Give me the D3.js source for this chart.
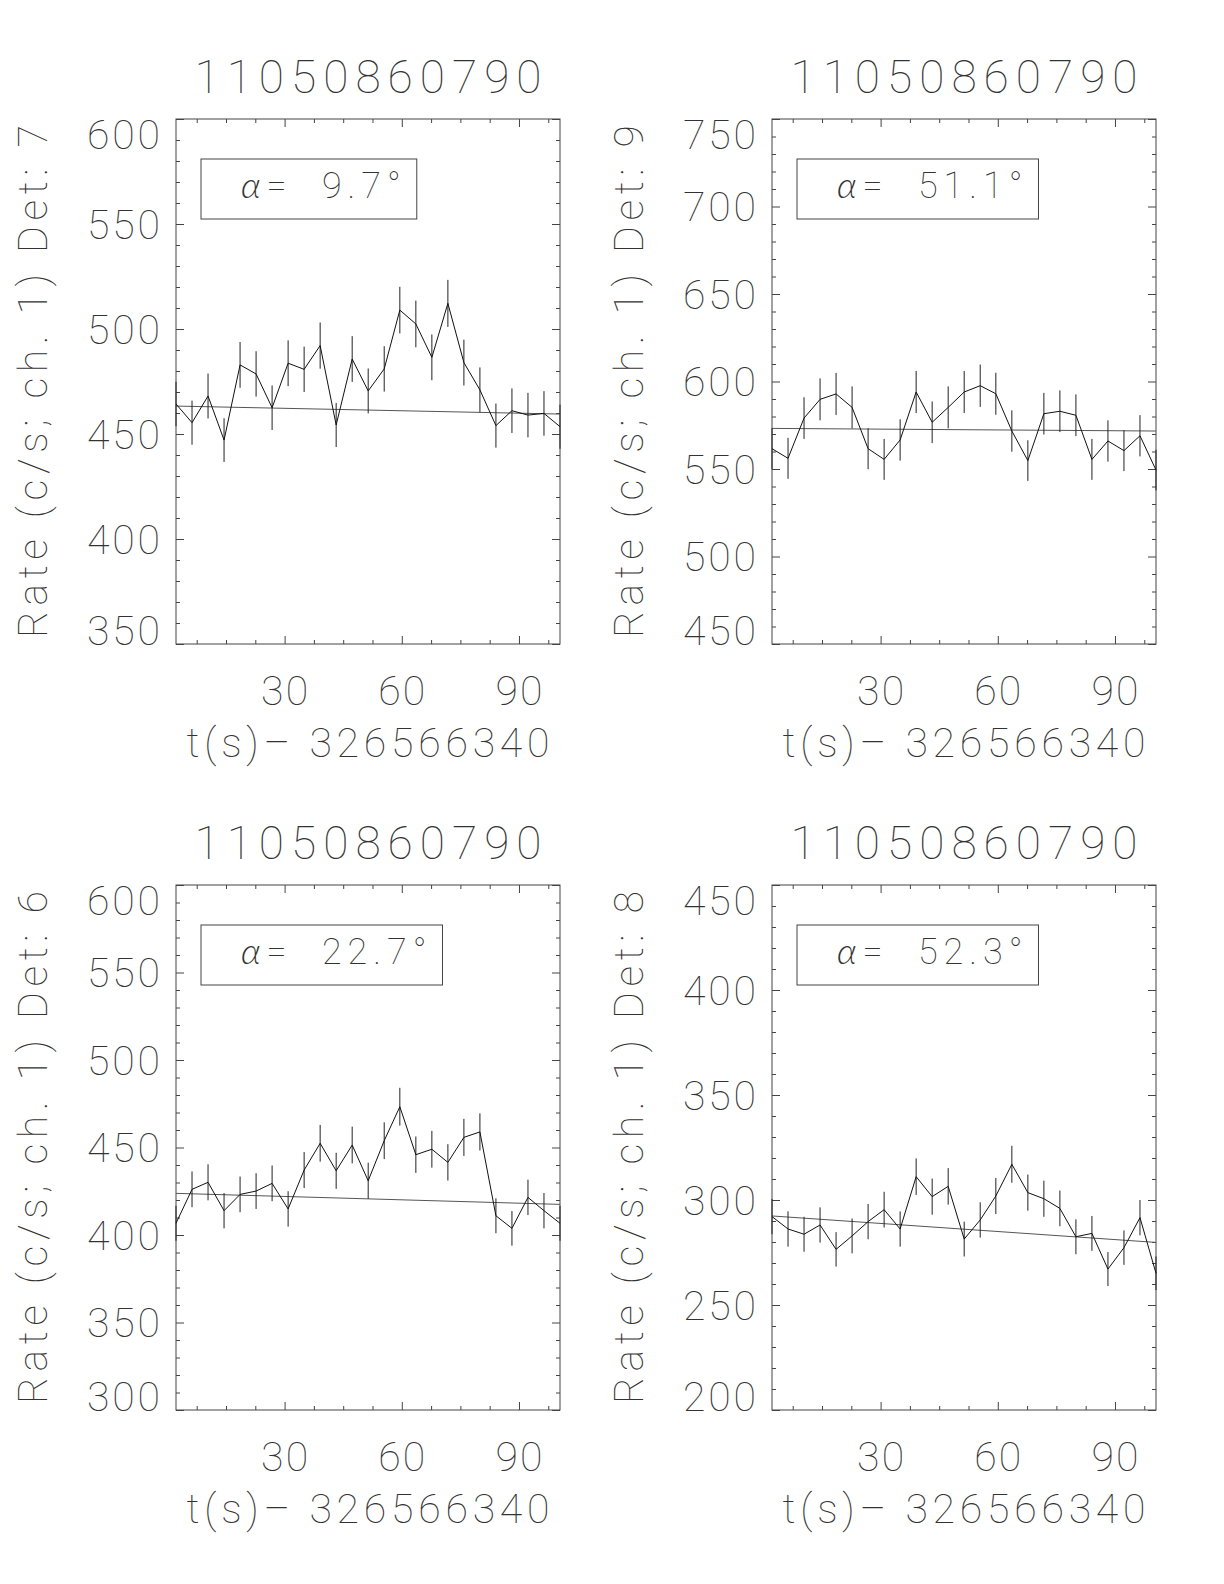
<!DOCTYPE html>
<meta charset="utf-8">
<style>
  body {
    margin: 0;
    background: #fff;
  }
  svg text {
    font-family: Roboto, Lato, "DejaVu Sans", sans-serif;
    font-weight: 100;
    fill: #333;
  }
</style>
<body>
<div id="chart"></div>
<script src="https://d3js.org/d3.v7.min.js"></script>
<script>

var width = 1224,
    height = 1584;

// shared labels
var plotTitle = "11050860790";
var xTitle = "t(s)\u2013 326566340";

// bin centres, seconds after 326566340
var times = [2.2, 6.3, 10.4, 14.5, 18.6, 22.7, 26.8, 30.9, 35.0, 39.1, 43.2, 47.3, 51.4,
             55.5, 59.5, 63.6, 67.7, 71.8, 75.9, 80.0, 84.1, 88.2, 92.3, 96.4, 100.5];

var xMajor = [30, 60, 90];
var xMinor = [7.5, 15, 22.5, 37.5, 45, 52.5, 67.5, 75, 82.5, 97.5];

// panel order: top-left, top-right, bottom-left, bottom-right
var detectors = [7, 9, 6, 8];
var alphas = ["9.7", "51.1", "22.7", "52.3"];
var yRanges = [[350, 600], [450, 750], [300, 600], [200, 450]];

var rateDet7 = [464.3, 455.4, 468.1, 447.1, 482.9, 478.6, 462.5, 483.7, 480.8, 492.1, 454.3, 485.7, 470.5,
                481.0, 509.0, 502.4, 486.5, 512.2, 484.0, 471.0, 454.0, 461.1, 459.0, 459.8, 453.5];
var errDet7  = [10.6, 10.5, 10.7, 10.4, 10.9, 10.8, 10.6, 10.9, 10.8, 11.0, 10.5, 10.9, 10.7,
                10.8, 11.1, 11.1, 10.9, 11.2, 10.9, 10.7, 10.5, 10.6, 10.6, 10.6, 10.5];
var fitDet7  = [463.3, 459.5];

var rateDet9 = [561.6, 556.1, 579.1, 589.8, 592.9, 585.2, 561.6, 555.5, 566.6, 594.0, 576.7, 585.2, 594.0,
                597.6, 593.0, 571.7, 554.8, 581.6, 583.0, 580.7, 555.5, 566.0, 560.5, 569.0, 549.4];
var errDet9  = [11.7, 11.7, 11.9, 12.0, 12.0, 12.0, 11.7, 11.7, 11.8, 12.0, 11.9, 12.0, 12.0,
                12.1, 12.0, 11.8, 11.6, 11.9, 11.9, 11.9, 11.7, 11.8, 11.7, 11.8, 11.6];
var fitDet9  = [573.2, 571.7];

var rateDet6 = [406.7, 426.1, 430.1, 413.9, 423.2, 425.1, 429.5, 414.9, 437.1, 452.4, 436.7, 451.4, 431.0,
                453.9, 473.3, 445.9, 449.0, 441.5, 455.8, 458.9, 411.0, 403.8, 421.5, 413.9, 406.7];
var errDet6  = [10.0, 10.2, 10.3, 10.1, 10.2, 10.2, 10.2, 10.1, 10.3, 10.5, 10.3, 10.5, 10.3,
                10.5, 10.8, 10.4, 10.5, 10.4, 10.6, 10.6, 10.0, 9.9, 10.1, 10.1, 10.0];
var fitDet6  = [423.8, 417.5];

var rateDet8 = [292.1, 286.2, 283.7, 288.1, 276.5, 282.9, 289.7, 295.4, 286.2, 311.1, 301.6, 306.5, 281.4,
                290.5, 301.9, 317.0, 303.5, 300.6, 296.0, 282.5, 284.1, 267.1, 277.3, 291.6, 265.1];
var errDet8  = [8.4, 8.4, 8.3, 8.4, 8.2, 8.3, 8.4, 8.5, 8.4, 8.7, 8.6, 8.7, 8.3,
                8.4, 8.6, 8.8, 8.6, 8.6, 8.5, 8.3, 8.3, 8.1, 8.2, 8.4, 8.0];
var fitDet8  = [292.4, 279.8];

var rates = [rateDet7, rateDet9, rateDet6, rateDet8];
var errors = [errDet7, errDet9, errDet6, errDet8];
var fits = [fitDet7, fitDet9, fitDet6, fitDet8];

// plot frame geometry
var frameLefts = [176, 772],
    frameTops = [119, 885],
    frameW = 384,
    frameH = 525;

var svg = d3.select("#chart")
  .append("svg")
  .attr("width", width)
  .attr("height", height);

function drawPanel(i) {
  var L = frameLefts[i % 2],
      T = frameTops[Math.floor(i / 2)];

  var x = d3.scaleLinear().domain([times[0], times[times.length - 1]]).range([0, frameW]);
  var y = d3.scaleLinear().domain(yRanges[i]).range([frameH, 0]);

  var g = svg.append("g").attr("transform", "translate(" + L + "," + T + ")");

  var yMajor = d3.range(yRanges[i][0], yRanges[i][1] + 1, 50);
  var yMinor = d3.range(yRanges[i][0], yRanges[i][1] + 1, 10).filter(function(v) { return v % 50 !== 0; });

  function ticks(axis, tr, vals, len) {
    g.append("g")
      .attr("transform", tr)
      .call(axis.tickValues(vals).tickSize(-len).tickFormat(""))
      .call(function(a) { a.select(".domain").remove(); })
      .selectAll("line").attr("stroke", "#444");
  }
  ticks(d3.axisBottom(x), "translate(0," + frameH + ")", xMajor, 8);
  ticks(d3.axisBottom(x), "translate(0," + frameH + ")", xMinor, 4);
  ticks(d3.axisTop(x), "translate(0,0)", xMajor, 8);
  ticks(d3.axisTop(x), "translate(0,0)", xMinor, 4);
  ticks(d3.axisLeft(y), "translate(0,0)", yMajor, 8);
  ticks(d3.axisLeft(y), "translate(0,0)", yMinor, 4);
  ticks(d3.axisRight(y), "translate(" + frameW + ",0)", yMajor, 8);
  ticks(d3.axisRight(y), "translate(" + frameW + ",0)", yMinor, 4);

  g.append("rect")
    .attr("x", 0).attr("y", 0)
    .attr("width", frameW).attr("height", frameH)
    .attr("fill", "none")
    .attr("stroke", "#444")
    .attr("stroke-width", 1);

  // y tick labels, kept inside the frame at the ends
  g.selectAll(".ylab")
    .data(yMajor)
    .enter().append("text")
    .attr("class", "ylab")
    .attr("x", -16)
    .attr("y", function(d) { return Math.max(29.5, Math.min(y(d) + 14.5, frameH + 1)); })
    .attr("text-anchor", "end")
    .attr("font-size", 41)
    .attr("textLength", 73)
    .attr("lengthAdjust", "spacing")
    .text(function(d) { return d; });

  g.selectAll(".xlab")
    .data(xMajor)
    .enter().append("text")
    .attr("class", "xlab")
    .attr("x", function(d) { return x(d); })
    .attr("y", frameH + 61)
    .attr("text-anchor", "middle")
    .attr("font-size", 41)
    .attr("textLength", 47)
    .attr("lengthAdjust", "spacing")
    .text(function(d) { return d; });

  g.append("text")
    .attr("x", frameW / 2)
    .attr("y", frameH + 113)
    .attr("text-anchor", "middle")
    .attr("font-size", 41)
    .attr("textLength", 363)
    .attr("lengthAdjust", "spacing")
    .text(xTitle);

  g.append("text")
    .attr("x", frameW / 2)
    .attr("y", -26)
    .attr("text-anchor", "middle")
    .attr("font-size", 46)
    .attr("textLength", 347)
    .attr("lengthAdjust", "spacing")
    .text(plotTitle);

  g.append("text")
    .attr("transform", "translate(-129," + frameH / 2 + ") rotate(-90)")
    .attr("text-anchor", "middle")
    .attr("font-size", 41)
    .attr("textLength", 513)
    .attr("lengthAdjust", "spacing")
    .text("Rate (c/s; ch. 1) Det: " + detectors[i]);

  // fit line
  g.append("line")
    .attr("x1", x(times[0])).attr("y1", y(fits[i][0]))
    .attr("x2", x(times[times.length - 1])).attr("y2", y(fits[i][1]))
    .attr("stroke", "#555")
    .attr("stroke-width", 1);

  var pts = times.map(function(t, k) { return { t: t, v: rates[i][k], e: errors[i][k] }; });

  g.selectAll(".err")
    .data(pts)
    .enter().append("line")
    .attr("class", "err")
    .attr("x1", function(d) { return x(d.t); })
    .attr("x2", function(d) { return x(d.t); })
    .attr("y1", function(d) { return y(d.v - d.e); })
    .attr("y2", function(d) { return y(d.v + d.e); })
    .attr("stroke", "#222")
    .attr("stroke-width", 1);

  g.append("path")
    .datum(pts)
    .attr("fill", "none")
    .attr("stroke", "#111")
    .attr("stroke-width", 1)
    .attr("d", d3.line().x(function(d) { return x(d.t); }).y(function(d) { return y(d.v); }));

  // alpha label box
  var boxL = 25, boxT = 40, boxB = 100;
  var lab = g.append("text")
    .attr("x", boxL + 40)
    .attr("y", 79)
    .attr("font-size", 36)
    .attr("letter-spacing", 6)
    .style("white-space", "pre");
  lab.append("tspan")
    .style("font-family", "Lato, Roboto, sans-serif")
    .style("font-style", "italic")
    .style("font-weight", 300)
    .text("\u03b1");
  lab.append("tspan").text("=  " + alphas[i] + "\u00b0");
  var bb = lab.node().getBBox();
  g.append("rect")
    .attr("x", boxL)
    .attr("y", boxT)
    .attr("width", bb.x + bb.width + 10 - boxL)
    .attr("height", boxB - boxT)
    .attr("fill", "none")
    .attr("stroke", "#444")
    .attr("stroke-width", 1);
}

for (var i = 0; i < 4; i++) drawPanel(i);

</script>
</body>
